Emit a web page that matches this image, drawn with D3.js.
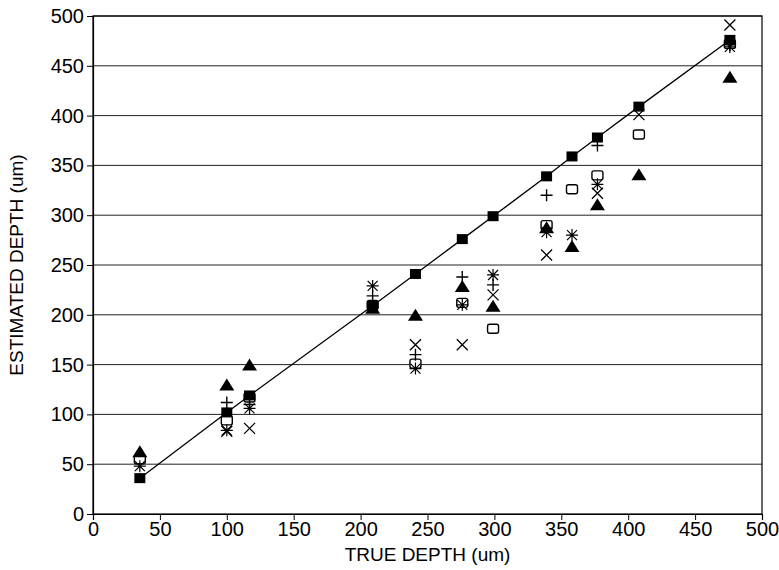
<!DOCTYPE html>
<html><head><meta charset="utf-8">
<script src="https://cdn.jsdelivr.net/npm/d3@7"></script>
<style>body{margin:0;background:#fff}svg{display:block}text{font-family:"Liberation Sans",Arial,sans-serif;fill:#000}</style>
</head><body>
<svg id="c" width="779" height="570"></svg>
<script>
const trueDepth  = [35, 100, 117, 209, 241, 276, 299, 339, 358, 377, 408, 476];
const refSquare  = [36, 102, 119, 209, 241, 276, 299, 339, 359, 378, 409, 476];
const triangle   = [62, 129, 149, 206, 199, 228, 208, 287, 268, 310, 340, 438];
const openSquare = [55, 94, 117, 210, 151, 212, 186, 290, 326, 340, 381, 472];
const crossX     = [null, 83, 86, null, 170, 170, 220, 260, null, 322, 401, 491];
const asterisk   = [48, 84, 106, 229, 146, 210, 240, 283, 280, 331, null, 469];
const plusMark   = [null, 112, 110, 219, 160, 238, 230, 320, null, 370, null, 471];
const ticks = [0, 50, 100, 150, 200, 250, 300, 350, 400, 450, 500];

const svg = d3.select("#c");
const L = 93, R = 762, T = 16, B = 514;
const x = d3.scaleLinear().domain([0, 500]).range([L, R]);
const y = d3.scaleLinear().domain([0, 500]).range([B, T]);

// gridlines
svg.append("g").selectAll("line").data(ticks.slice(1)).join("line")
  .attr("x1", L).attr("x2", R).attr("y1", d => y(d)).attr("y2", d => y(d))
  .attr("stroke", "#222").attr("stroke-width", 1);
// frame
svg.append("rect").attr("x", L).attr("y", T).attr("width", R - L).attr("height", B - T)
  .attr("fill", "none").attr("stroke", "#000").attr("stroke-width", 1.2);

const xa = svg.append("g").attr("transform", `translate(0,${B})`)
  .call(d3.axisBottom(x).tickValues(ticks).tickSize(6).tickPadding(2).tickFormat(d3.format("d")));
const ya = svg.append("g").attr("transform", `translate(${L},0)`)
  .call(d3.axisLeft(y).tickValues(ticks).tickSize(6).tickPadding(3).tickFormat(d3.format("d")));
[xa, ya].forEach(a => {
  a.select(".domain").attr("stroke", "#000").attr("stroke-width", 1.2);
  a.selectAll(".tick line").attr("stroke", "#000");
  a.selectAll("text").attr("font-size", 20).attr("font-family", "Liberation Sans, Arial, sans-serif").attr("fill", "#000");
});

svg.append("text").attr("x", (L + R) / 2).attr("y", 561).attr("text-anchor", "middle")
  .attr("font-size", 19).text("TRUE DEPTH (um)");
svg.append("text").attr("transform", `translate(23,${(T + B) / 2}) rotate(-90)`).attr("text-anchor", "middle")
  .attr("font-size", 19).text("ESTIMATED DEPTH (um)");

// reference line through filled squares
const pts = trueDepth.map((t, i) => [t, refSquare[i]]);
svg.append("path").datum(pts)
  .attr("d", d3.line().x(d => x(d[0])).y(d => y(d[1])))
  .attr("fill", "none").attr("stroke", "#000").attr("stroke-width", 1.3);

function series(vals) { return trueDepth.map((t, i) => [t, vals[i]]).filter(d => d[1] != null); }
const g = svg.append("g");

// open squares
g.selectAll(".os").data(series(openSquare)).join("rect")
  .attr("x", d => x(d[0]) - 5.5).attr("y", d => y(d[1]) - 4.5).attr("width", 11).attr("height", 9)
  .attr("rx", 2).attr("fill", "#fff").attr("stroke", "#000").attr("stroke-width", 1.4);
// X
g.selectAll(".cx").data(series(crossX)).join("path")
  .attr("d", d => { const cx = x(d[0]), cy = y(d[1]), s = 5.5; return `M${cx-s},${cy-s}L${cx+s},${cy+s}M${cx-s},${cy+s}L${cx+s},${cy-s}`; })
  .attr("stroke", "#000").attr("stroke-width", 1.3).attr("fill", "none");
// asterisk
g.selectAll(".as").data(series(asterisk)).join("path")
  .attr("d", d => { const cx = x(d[0]), cy = y(d[1]), s = 5, v = 6;
    return `M${cx-s},${cy-s}L${cx+s},${cy+s}M${cx-s},${cy+s}L${cx+s},${cy-s}M${cx},${cy-v}L${cx},${cy+v}M${cx-v},${cy}L${cx+v},${cy}`; })
  .attr("stroke", "#000").attr("stroke-width", 1.2).attr("fill", "none");
// plus
g.selectAll(".pl").data(series(plusMark)).join("path")
  .attr("d", d => { const cx = x(d[0]), cy = y(d[1]), s = 6; return `M${cx-s},${cy}L${cx+s},${cy}M${cx},${cy-s}L${cx},${cy+s}`; })
  .attr("stroke", "#000").attr("stroke-width", 1.4).attr("fill", "none");
// triangles
g.selectAll(".tr").data(series(triangle)).join("path")
  .attr("d", d => { const cx = x(d[0]), cy = y(d[1]); return `M${cx},${cy-7}L${cx+7.5},${cy+5}L${cx-7.5},${cy+5}Z`; })
  .attr("fill", "#000");
// filled squares
g.selectAll(".fs").data(pts).join("rect")
  .attr("x", d => x(d[0]) - 5.5).attr("y", d => y(d[1]) - 5).attr("width", 11).attr("height", 10)
  .attr("fill", "#000");
</script>
</body></html>
